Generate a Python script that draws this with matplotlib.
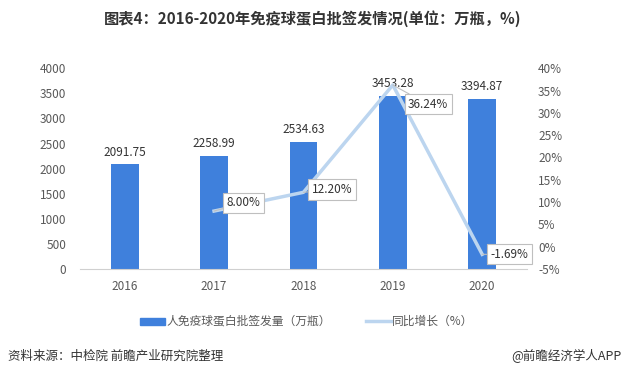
import matplotlib.pyplot as plt
import numpy as np

plt.rcParams['font.family'] = ['Noto Sans CJK SC', 'DejaVu Sans']

years = ['2016', '2017', '2018', '2019', '2020']
volume = [2091.75, 2258.99, 2534.63, 3453.28, 3394.87]
growth_years = [1, 2, 3, 4]
growth = [8.00, 12.20, 36.24, -1.69]
growth_labels = ['8.00%', '12.20%', '36.24%', '-1.69%']
# label box offsets (points) from each point
growth_offsets = [(9, 6), (6, 2), (11, -14), (6, 0)]

bar_color = '#3f80dc'
line_color = '#bcd5ef'

fig = plt.figure(figsize=(6.25, 3.79), dpi=100)
ax = fig.add_axes([0.128, 0.29, 0.715, 0.53])
ax2 = ax.twinx()

x = np.arange(len(years))
ax.bar(x, volume, width=0.31, color=bar_color, zorder=2)
for xi, v in zip(x, volume):
    ax.text(xi, v + 110, f'{v:.2f}', ha='center', va='bottom', fontsize=8.5, color='#333333')

ax.set_xlim(-0.5, 4.5)
ax.set_ylim(0, 4000)
ax.set_yticks(range(0, 4001, 500))
ax.set_xticks(x)
ax.set_xticklabels(years)
ax.tick_params(axis='both', length=0, labelsize=8.5, colors='#595959')
ax.tick_params(axis='x', pad=8)
ax.tick_params(axis='y', pad=10)
for s in ['top', 'right', 'left']:
    ax.spines[s].set_visible(False)
ax.spines['bottom'].set_color('#d0d0d0')

ax2.plot(growth_years, growth, color=line_color, lw=2.5, zorder=3)
ax2.set_ylim(-5, 40)
ax2.set_yticks(range(-5, 41, 5))
ax2.set_yticklabels([f'{t}%' for t in range(-5, 41, 5)])
ax2.tick_params(axis='y', length=0, labelsize=8.5, colors='#595959', pad=8)
for s in ax2.spines.values():
    s.set_visible(False)

for xi, g, lab, off in zip(growth_years, growth, growth_labels, growth_offsets):
    ax2.annotate(lab, xy=(xi, g), xytext=off, textcoords='offset points',
                 ha='left', va='center', fontsize=8.5, color='#333333',
                 bbox=dict(boxstyle='square,pad=0.3', fc='white', ec='#bfbfbf', lw=0.8),
                 arrowprops=dict(arrowstyle='-', color='#bfbfbf', lw=0.8,
                                 shrinkA=0, shrinkB=0))

fig.text(0.5, 0.952, '图表4：2016-2020年免疫球蛋白批签发情况(单位：万瓶，%)',
         ha='center', va='center', fontsize=11, fontweight='bold', color='#333333')

# legend
fig.patches.append(plt.Rectangle((0.224, 0.143), 0.04, 0.018, transform=fig.transFigure,
                                 color=bar_color))
fig.text(0.267, 0.152, '人免疫球蛋白批签发量（万瓶）', ha='left', va='center',
         fontsize=8.5, color='#595959')
fig.lines.append(plt.Line2D([0.585, 0.625], [0.152, 0.152], transform=fig.transFigure,
                            color=line_color, lw=2.5))
fig.text(0.627, 0.152, '同比增长（%）', ha='left', va='center',
         fontsize=8.5, color='#595959')

fig.text(0.013, 0.06, '资料来源：中检院 前瞻产业研究院整理', ha='left', va='center',
         fontsize=9, color='#333333')
fig.text(0.995, 0.06, '@前瞻经济学人APP', ha='right', va='center',
         fontsize=9, color='#333333')

fig.savefig('out.png', dpi=100, facecolor='white')
